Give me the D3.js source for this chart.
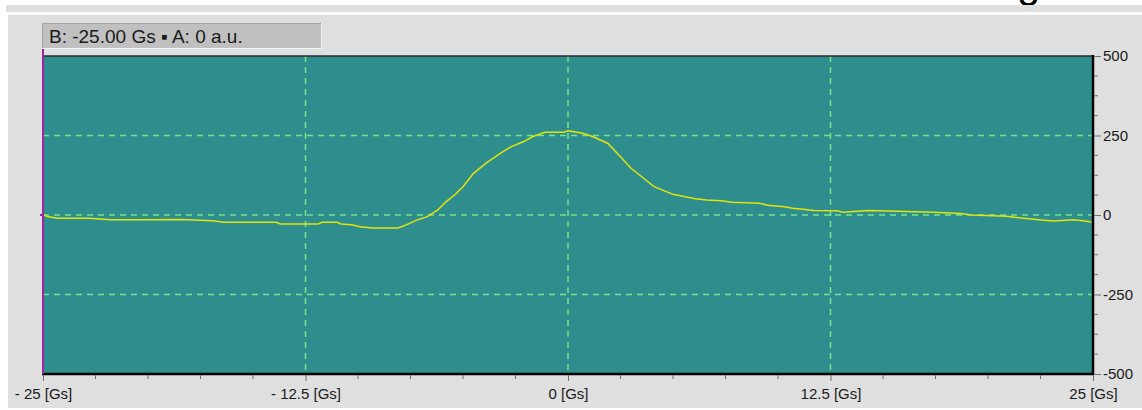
<!DOCTYPE html>
<html>
<head>
<meta charset="utf-8">
<script src="https://cdn.jsdelivr.net/npm/d3@7"></script>
<style>
  html, body { margin: 0; padding: 0; background: #ffffff; }
  svg { display: block; font-family: "Liberation Sans", Arial, sans-serif; }
</style>
</head>
<body>
<svg id="chart" width="1142" height="410"></svg>
<script>
// ---- data ----
const fieldGs = [-25.0, -24.8, -24.3, -22.8, -21.8, -20.2, -18.5, -16.9, -16.4, -13.9, -13.7, -11.9, -11.7, -11.0, -10.8, -10.3, -9.9, -9.3, -8.1, -7.7, -7.2, -6.7, -6.2, -5.8, -5.4, -5.0, -4.5, -3.9, -3.1, -2.7, -2.1, -1.7, -1.1, -0.2, 0.0, 0.7, 1.2, 1.9, 2.5, 3.0, 3.7, 4.1, 5.0, 6.0, 6.6, 7.3, 7.8, 9.1, 9.5, 10.3, 10.7, 11.2, 11.7, 12.8, 13.1, 14.3, 17.4, 18.7, 19.2, 20.9, 21.5, 22.4, 23.1, 24.1, 24.6, 25.0];
const amplitude = [2, -5, -10, -10, -15, -15, -14, -18, -23, -23, -28, -28, -23, -23, -28, -31, -37, -41, -41, -31, -16, -5, 16, 42, 63, 89, 131, 163, 199, 215, 231, 246, 260, 260, 265, 257, 246, 225, 183, 147, 110, 89, 65, 52, 47, 45, 40, 37, 31, 26, 21, 18, 14, 13, 9, 14, 9, 5, 0, -4, -9, -15, -19, -15, -19, -23];
const xTickValues = [-25, -12.5, 0, 12.5, 25];
const xTickLabels = ["- 25 [Gs]", "- 12.5 [Gs]", "0 [Gs]", "12.5 [Gs]", "25 [Gs]"];
const xMinorStep = 2.5;
const yTickValues = [500, 250, 0, -250, -500];
const yTickLabels = ["500", "250", "0", "-250", "-500"];
const yMinorStep = 62.5;
const xGrid = [-12.5, 0, 12.5];
const yGrid = [250, 0, -250];
const readout = "B: -25.00 Gs \u25AA A: 0 a.u.";

// ---- layout ----
const L = 43, R = 1093, T = 56, B = 374;
const svg = d3.select("#chart");

const x = d3.scaleLinear().domain([-25, 25]).range([L, R]);
const y = d3.scaleLinear().domain([-500, 500]).range([B, T]);

// background pieces
svg.append("rect").attr("x", 0).attr("y", 0).attr("width", 1142).attr("height", 410).attr("fill", "#ffffff");
svg.append("text").attr("x", 1017).attr("y", -3).attr("font-size", 42).attr("fill", "#000").text("g");
svg.append("rect").attr("x", 6).attr("y", 5).attr("width", 1136).attr("height", 7).attr("fill", "#dfdfdf");
svg.append("rect").attr("x", 8).attr("y", 15).attr("width", 1134).attr("height", 393).attr("fill", "#dfdfdf");

// plot area
svg.append("rect").attr("x", L).attr("y", T).attr("width", R - L).attr("height", B - T).attr("fill", "#2e8e8e");

// grid
const gridColor = "#78e28c";
svg.append("g").selectAll("line").data(xGrid).join("line")
  .attr("x1", d => x(d)).attr("x2", d => x(d)).attr("y1", T).attr("y2", B)
  .attr("stroke", gridColor).attr("stroke-width", 1.5).attr("stroke-dasharray", "6,5");
svg.append("g").selectAll("line").data(yGrid).join("line")
  .attr("x1", L).attr("x2", R).attr("y1", d => y(d)).attr("y2", d => y(d))
  .attr("stroke", gridColor).attr("stroke-width", 1.5).attr("stroke-dasharray", "6,5");

// curve
const pts = fieldGs.map((g, i) => [g, amplitude[i]]);
svg.append("path").datum(pts)
  .attr("fill", "none").attr("stroke", "#e2e40a").attr("stroke-width", 1.5)
  .attr("d", d3.line().x(d => x(d[0])).y(d => y(d[1])).curve(d3.curveLinear));

// borders
svg.append("line").attr("x1", L).attr("x2", R).attr("y1", T).attr("y2", T).attr("stroke", "#2a2a2a").attr("stroke-width", 1.5);
svg.append("line").attr("x1", R).attr("x2", R).attr("y1", T - 1).attr("y2", B + 1).attr("stroke", "#000").attr("stroke-width", 2.5);
svg.append("line").attr("x1", L - 1).attr("x2", R + 1).attr("y1", B).attr("y2", B).attr("stroke", "#000").attr("stroke-width", 2.5);
svg.append("line").attr("x1", L).attr("x2", L).attr("y1", 49).attr("y2", B).attr("stroke", "#a024a8").attr("stroke-width", 2);
svg.append("line").attr("x1", L - 3).attr("x2", L + 1).attr("y1", y(0)).attr("y2", y(0)).attr("stroke", "#a024a8").attr("stroke-width", 2);

// right axis
const yAxis = d3.axisRight(y).tickValues(yTickValues).tickSize(7).tickPadding(2)
  .tickFormat((d, i) => yTickLabels[i]);
const gy = svg.append("g").attr("transform", `translate(${R + 1},0)`).call(yAxis);
gy.select(".domain").remove();
gy.selectAll(".tick line").attr("stroke", "#707070");
gy.selectAll(".tick text").attr("font-size", 15).attr("fill", "#1a1a1a").attr("font-family", "Liberation Sans, Arial, sans-serif");
const yMinor = d3.range(-500, 500.01, yMinorStep).filter(v => !yTickValues.includes(v));
svg.append("g").selectAll("line").data(yMinor).join("line")
  .attr("x1", R + 1).attr("x2", R + 5).attr("y1", d => y(d)).attr("y2", d => y(d))
  .attr("stroke", "#707070");

// bottom axis
const xAxis = d3.axisBottom(x).tickValues(xTickValues).tickSize(6).tickPadding(7)
  .tickFormat((d, i) => xTickLabels[i]);
const gx = svg.append("g").attr("transform", `translate(0,${B + 1})`).call(xAxis);
gx.select(".domain").remove();
gx.selectAll(".tick line").attr("stroke", "#707070");
gx.selectAll(".tick text").attr("font-size", 15).attr("fill", "#1a1a1a").attr("font-family", "Liberation Sans, Arial, sans-serif");
const xMinor = d3.range(-25, 25.01, xMinorStep).filter(v => !xTickValues.includes(v));
svg.append("g").selectAll("line").data(xMinor).join("line")
  .attr("x1", d => x(d)).attr("x2", d => x(d)).attr("y1", B + 1).attr("y2", B + 5)
  .attr("stroke", "#707070");

// readout box
const bx = 42, by = 23, bw = 280, bh = 26;
svg.append("rect").attr("x", bx).attr("y", by).attr("width", bw).attr("height", bh).attr("fill", "#c0c0c0");
svg.append("path").attr("d", `M${bx + 0.5},${by + bh} V${by + 0.5} H${bx + bw}`).attr("fill", "none").attr("stroke", "#a4a4a4");
svg.append("path").attr("d", `M${bx},${by + bh - 0.5} H${bx + bw - 0.5} V${by}`).attr("fill", "none").attr("stroke", "#f4f4f4");
svg.append("text").attr("x", bx + 7).attr("y", by + 20).attr("font-size", 19).attr("fill", "#1a1a1a").text(readout);
</script>
</body>
</html>
